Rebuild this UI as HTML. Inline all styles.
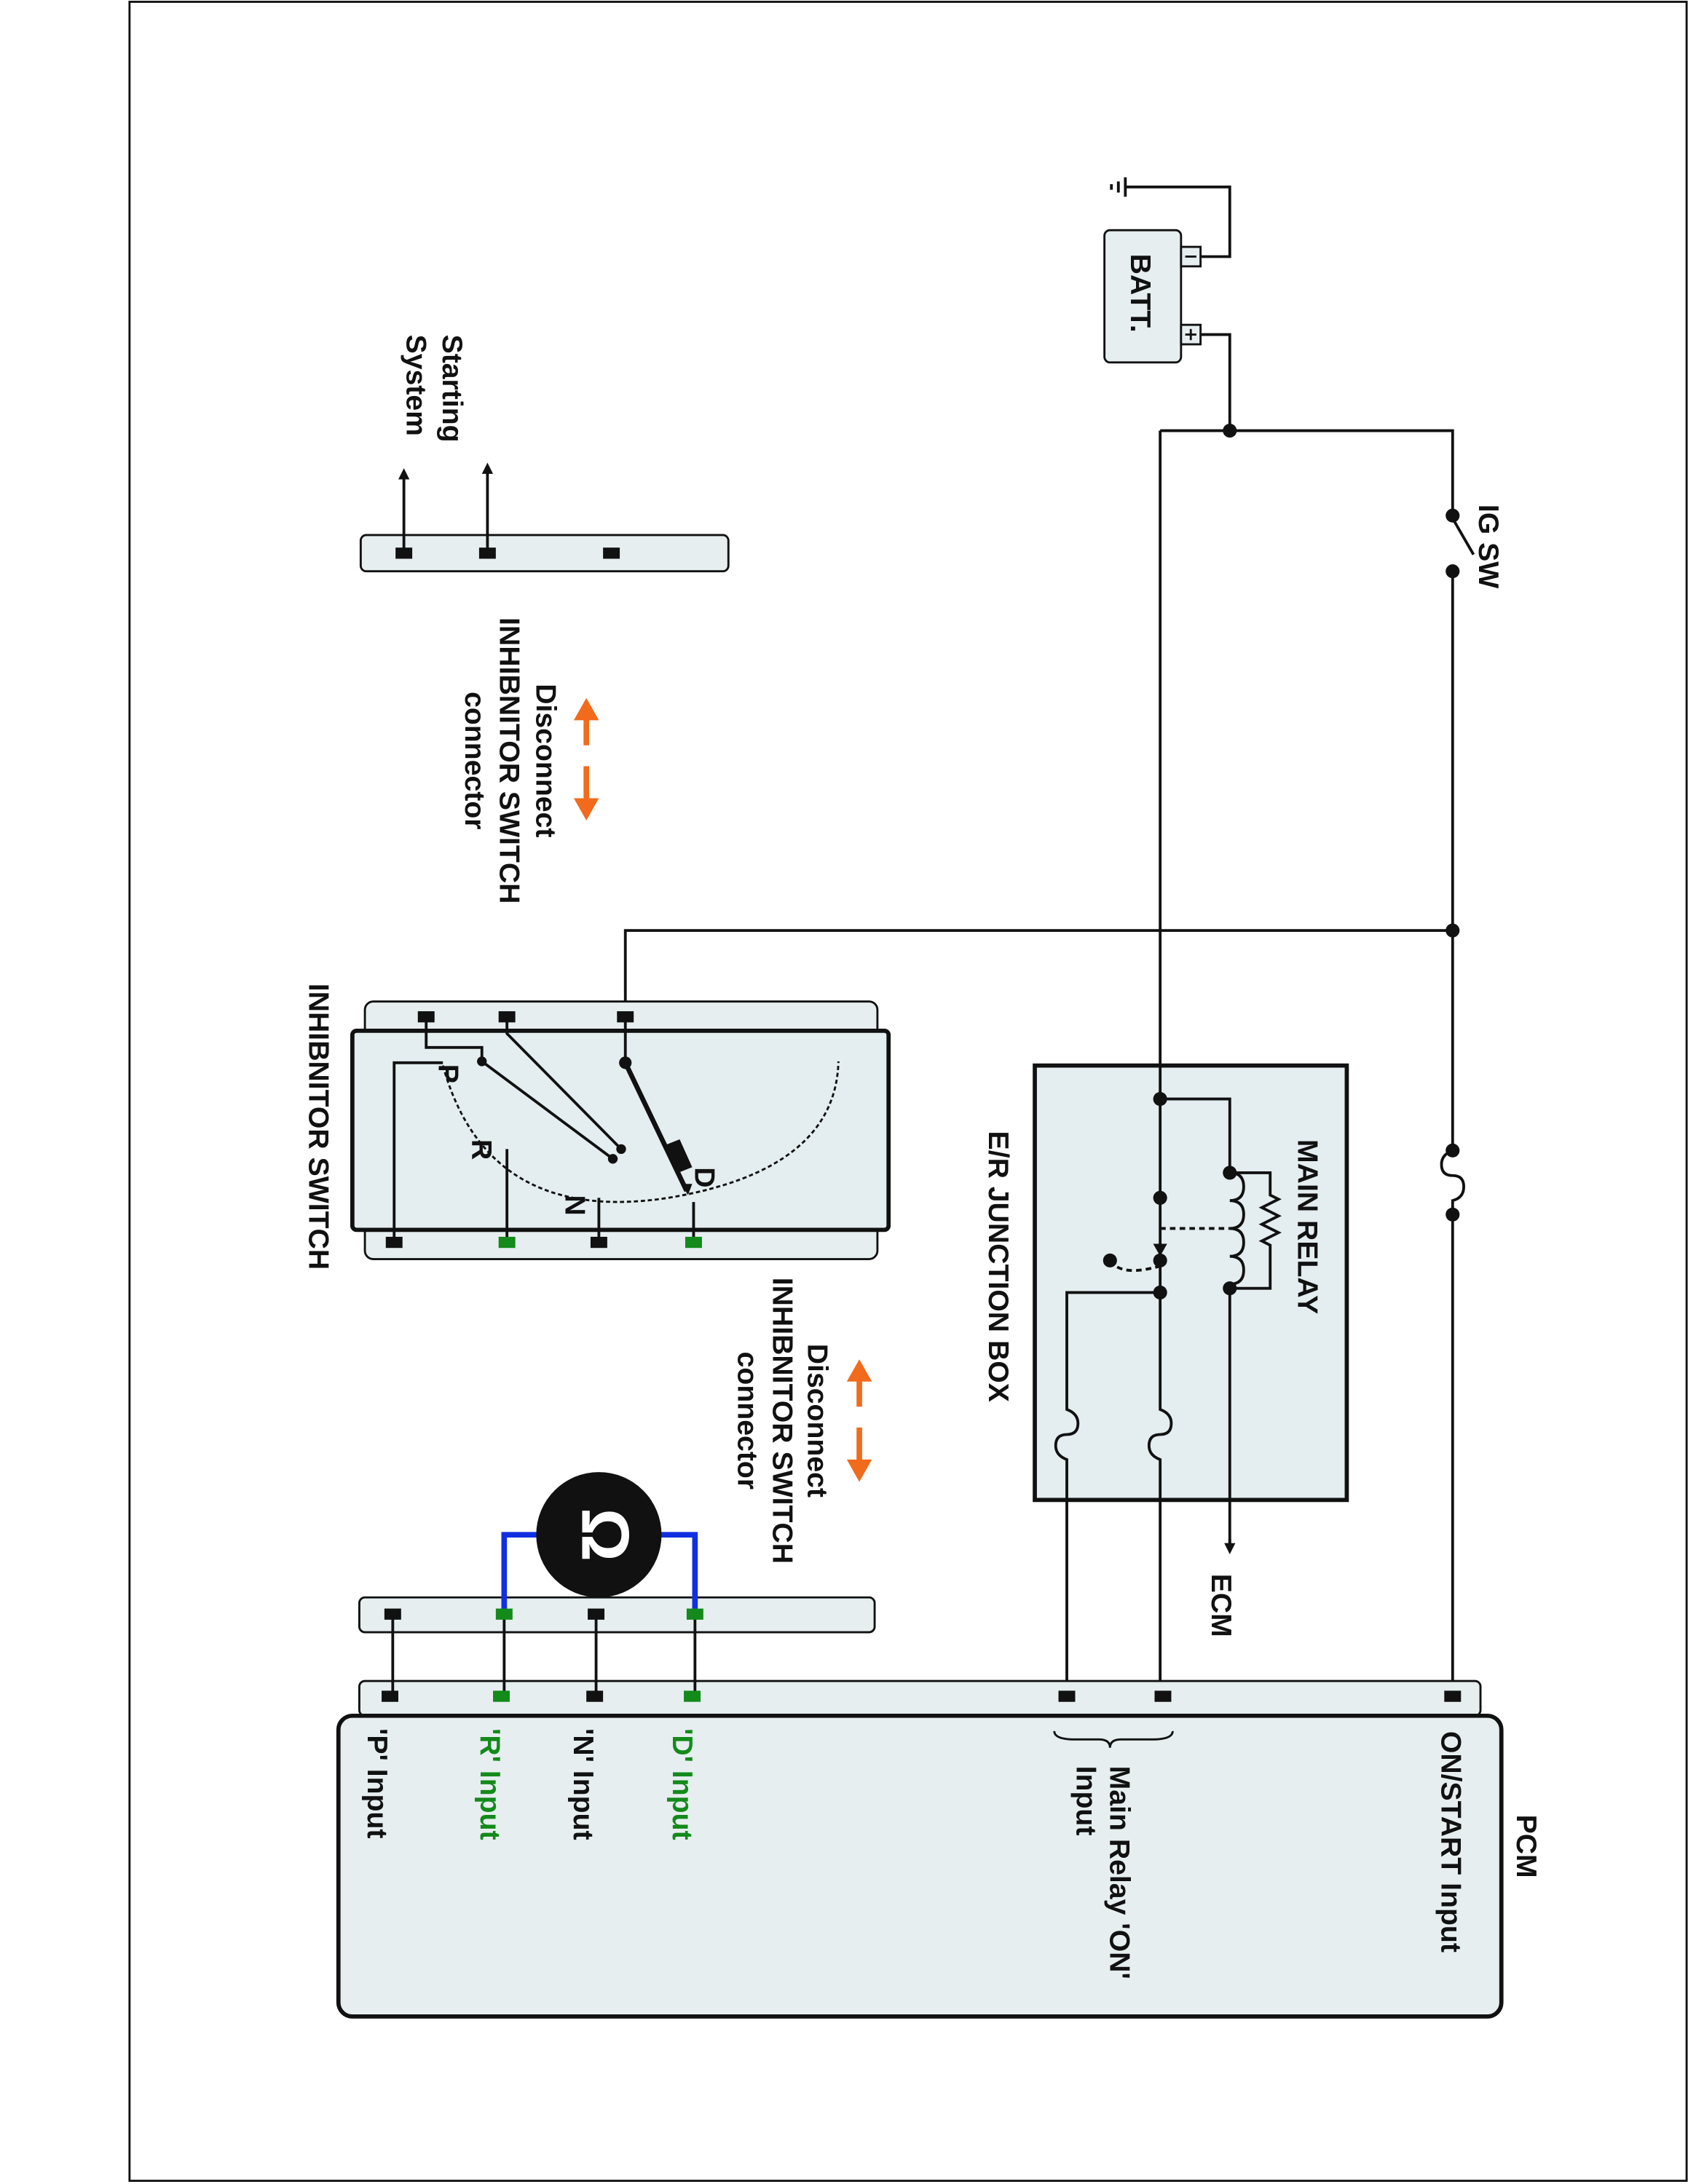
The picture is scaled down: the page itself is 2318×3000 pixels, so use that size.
<!DOCTYPE html>
<html><head><meta charset="utf-8"><style>
html,body{margin:0;padding:0;background:#fff}
svg{display:block}
text{font-family:"Liberation Sans",Arial,sans-serif;font-size:20.5px;font-weight:bold;fill:#111}
</style></head><body>
<svg width="2318" height="3000" viewBox="0 0 1212 1568" xmlns="http://www.w3.org/2000/svg">
<defs>
<marker id="ar" markerWidth="8" markerHeight="8" refX="4" refY="4" orient="auto" markerUnits="userSpaceOnUse"><path d="M0,0 L8,4 L0,8 z" fill="#111"/></marker>
</defs>
<rect x="0" y="0" width="1212" height="1568" fill="#fff"/>
<rect x="93" y="1" width="1118" height="1565" fill="none" stroke="#111" stroke-width="1.5"/>

<g stroke="#111" stroke-width="2" fill="none">
<rect x="793" y="165" width="55" height="95" rx="4" fill="#e6eef0" stroke-width="1.5"/>
<rect x="848" y="177" width="14" height="14" fill="#e6eef0" stroke-width="1.5"/>
<rect x="848" y="233" width="14" height="14" fill="#e6eef0" stroke-width="1.5"/>
<path d="M851,184 h8 M851,240 h8 M855,236 v8" stroke-width="1.5"/>
<path d="M862,184 H883 V134 H808"/>
<path d="M808,127 V141 M803,130 V138 M798,132 V136"/>
<path d="M862,240 H883 V309"/>
<path d="M833,309 H1043 V370"/>
<path d="M1043,372 L1058,398"/>
<path d="M1043,410 V826 q-8,3 -8,10 q0,8 8,8 q8,0 8,8 q0,8 -8,10 V1218"/>
<path d="M1043,668 H449 V730"/>
<rect x="743" y="765" width="224" height="312" fill="#e4edef" stroke-width="3"/>
<path d="M833,309 V898"/>
<path d="M833,789 H883 V842"/>
<path d="M883,842 q10,0 10,10 q0,10 -10,10 q10,0 10,10 q0,10 -10,10 q10,0 10,10 q0,10 -10,10 q10,0 10,10 q0,10 -10,10 V1112"/>
<path d="M883,842 H912 V858 l6,3 l-12,6 l12,6 l-12,6 l12,6 l-12,6 l6,3 V925 H883"/>
<path d="M833,882 H883" stroke-dasharray="4,3"/>
<path d="M797,905 q8,12 36,4" stroke-dasharray="4,3"/>
<path d="M833,905 V1012 q8,3 8,10 q0,8 -8,8 q-8,0 -8,8 q0,7 8,10 V1218"/>
<path d="M833,928 H766 V1012 q8,3 8,10 q0,8 -8,8 q-8,0 -8,8 q0,7 8,10 V1218"/>
<path d="M883,1105 V1112" marker-end="url(#ar)"/>
<rect x="258" y="1207" width="805" height="25" rx="4" fill="#e6eef0" stroke-width="1.5"/>
<rect x="243" y="1232" width="835" height="216" rx="10" fill="#e6eef0" stroke-width="3"/>
<path d="M757,1243 q0,6 15,6 h17 q8,0 8,6 q0,-6 8,-6 h22 q15,0 15,-6" stroke-width="1.5"/>
<rect x="258" y="1147" width="370" height="25" rx="4" fill="#e6eef0" stroke-width="1.5"/>
<path d="M282,1159 V1218 M362,1159 V1218 M428,1159 V1218 M499,1159 V1218"/>
<path d="M362,1159 V1102 H499 V1159" stroke="#1030e0" stroke-width="4"/>
<rect x="262" y="719" width="368" height="185" rx="6" fill="#e6eef0" stroke-width="1.5"/>
<rect x="253" y="740" width="385" height="143" rx="3" fill="#e4edef" stroke-width="3"/>
<path d="M306,730 V752 H346 V762 L440,832"/>
<path d="M364,730 V742 L446,825"/>
<path d="M449,730 V763"/>
<path d="M449,763 L493,855" stroke-width="3.5"/>
<path d="M283,892 V763 H318"/>
<path d="M364,892 V825 M430,892 V860 M498,892 V863"/>
<path d="M318,765 Q350,880 480,860 Q600,840 602,762" stroke-dasharray="3,2" stroke-width="1.5"/>
<rect x="259" y="384" width="264" height="26" rx="4" fill="#e6eef0" stroke-width="1.5"/>
<path d="M290,397 V340" marker-end="url(#ar)"/>
<path d="M350,397 V336" marker-end="url(#ar)"/>
</g>
<path d="M478,822 L488,818 L497,838 L487,842 z" fill="#111"/>
<path d="M489,850 L497,850 L494,858 z" fill="#111"/>
<path d="M828,893 L838,893 L833,902 z" fill="#111"/>
<g fill="#111">
<circle cx="883" cy="309" r="5"/><circle cx="1043" cy="370" r="5"/><circle cx="1043" cy="410" r="5"/>
<circle cx="1043" cy="668" r="5"/><circle cx="1043" cy="826" r="5"/><circle cx="1043" cy="872" r="5"/>
<circle cx="833" cy="789" r="5"/><circle cx="883" cy="842" r="5"/><circle cx="883" cy="925" r="5"/>
<circle cx="833" cy="860" r="5"/><circle cx="833" cy="905" r="5"/><circle cx="833" cy="928" r="5"/><circle cx="797" cy="905" r="5"/>
<circle cx="346" cy="762" r="3.5"/><circle cx="440" cy="832" r="3.5"/><circle cx="446" cy="825" r="3.5"/><circle cx="449" cy="763" r="4.5"/>
<circle cx="430" cy="1102" r="45"/>
<rect x="1037" y="1214" width="12" height="8"/><rect x="829" y="1214" width="12" height="8"/><rect x="760" y="1214" width="12" height="8"/>
<rect x="421" y="1214" width="12" height="8"/><rect x="274" y="1214" width="12" height="8"/>
<rect x="422" y="1155" width="12" height="8"/><rect x="276" y="1155" width="12" height="8"/>
<rect x="300" y="726" width="12" height="8"/><rect x="358" y="726" width="12" height="8"/><rect x="443" y="726" width="12" height="8"/>
<rect x="277" y="888" width="12" height="8"/><rect x="424" y="888" width="12" height="8"/>
<rect x="284" y="393" width="12" height="8"/><rect x="344" y="393" width="12" height="8"/><rect x="433" y="393" width="12" height="8"/>
</g>
<g fill="#138a1a">
<rect x="491" y="1214" width="12" height="8"/><rect x="354" y="1214" width="12" height="8"/>
<rect x="493" y="1155" width="12" height="8"/><rect x="356" y="1155" width="12" height="8"/>
<rect x="358" y="888" width="12" height="8"/><rect x="492" y="888" width="12" height="8"/>
</g>
<text transform="translate(418,1102) rotate(90)" text-anchor="middle" style="fill:#fff;font-size:48px">Ω</text>
<g stroke="#f26a1b" stroke-width="4" fill="#f26a1b">
<path d="M617,990 V1010 M617,1025 V1050"/>
<path d="M608,992 L617,976 L626,992 z" stroke="none"/>
<path d="M608,1048 L617,1064 L626,1048 z" stroke="none"/>
<path d="M421,515 V535 M421,550 V575"/>
<path d="M412,517 L421,501 L430,517 z" stroke="none"/>
<path d="M412,573 L421,589 L430,573 z" stroke="none"/>
</g>
<g>
<text transform="translate(1089,1303) rotate(90)">PCM</text>
<text transform="translate(1035,1243) rotate(90)">ON/START Input</text>
<text transform="translate(797,1268) rotate(90)">Main Relay 'ON'</text>
<text transform="translate(773,1268) rotate(90)">Input</text>
<text transform="translate(483,1241) rotate(90)" style="fill:#138a1a">'D' Input</text>
<text transform="translate(412,1241) rotate(90)">'N' Input</text>
<text transform="translate(345,1241) rotate(90)" style="fill:#138a1a">'R' Input</text>
<text transform="translate(264,1241) rotate(90)">'P' Input</text>
<text transform="translate(870,1130) rotate(90)">ECM</text>
<text transform="translate(932,818) rotate(90)">MAIN RELAY</text>
<text transform="translate(710,812) rotate(90)">E/R JUNCTION BOX</text>
<text transform="translate(1062,362) rotate(90)">IG SW</text>
<text transform="translate(812,182) rotate(90)">BATT.</text>
<text transform="translate(222,706) rotate(90)">INHIBNITOR SWITCH</text>
<text transform="translate(318,240) rotate(90)">Starting</text>
<text transform="translate(292,240) rotate(90)">System</text>
<text transform="translate(385,546) rotate(90)" text-anchor="middle">Disconnect</text>
<text transform="translate(359,546) rotate(90)" text-anchor="middle">INHIBNITOR SWITCH</text>
<text transform="translate(334,546) rotate(90)" text-anchor="middle">connector</text>
<text transform="translate(580,1020) rotate(90)" text-anchor="middle">Disconnect</text>
<text transform="translate(555,1020) rotate(90)" text-anchor="middle">INHIBNITOR SWITCH</text>
<text transform="translate(530,1020) rotate(90)" text-anchor="middle">connector</text>
<text transform="translate(315,764) rotate(90)">P</text>
<text transform="translate(339,818) rotate(90)">R</text>
<text transform="translate(406,858) rotate(90)">N</text>
<text transform="translate(499,838) rotate(90)">D</text>
</g>
</svg>
</body></html>
